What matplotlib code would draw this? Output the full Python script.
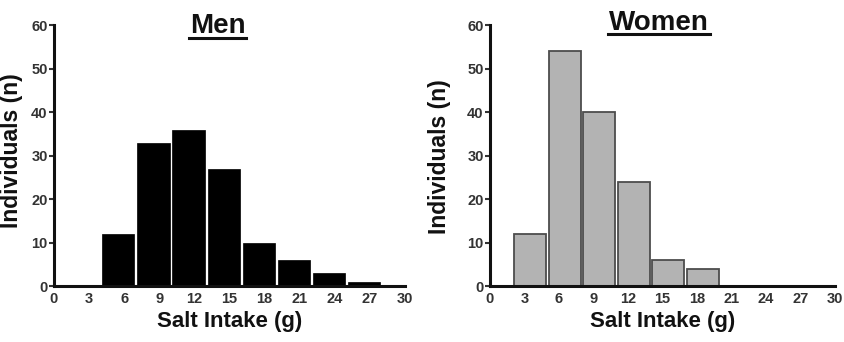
import matplotlib
matplotlib.use("Agg")
import matplotlib.pyplot as plt
from matplotlib.lines import Line2D

plt.rcParams['font.family'] = ['Liberation Sans', 'DejaVu Sans']
plt.rcParams['font.weight'] = 'bold'

# Data
men_centers = [5.5, 8.5, 11.5, 14.5, 17.5, 20.5, 23.5, 26.5]
men_counts = [12, 33, 36, 27, 10, 6, 3, 1]
women_centers = [3.5, 6.5, 9.5, 12.5, 15.5, 18.5]
women_counts = [12, 54, 40, 24, 6, 4]
xticks = [0, 3, 6, 9, 12, 15, 18, 21, 24, 27, 30]
yticks = [0, 10, 20, 30, 40, 50, 60]

W, H = 845, 342
fig = plt.figure(figsize=(W / 100, H / 100), dpi=100)


def fx(px):
    return px / W


def fy(py):
    return 1 - py / H


def make_axes(left_px, right_px):
    top_px, bottom_px = 25.3, 286
    ax = fig.add_axes([fx(left_px), fy(bottom_px),
                       fx(right_px - left_px), (bottom_px - top_px) / H])
    ax.set_xlim(0, 30)
    ax.set_ylim(0, 60)
    ax.set_xticks(xticks)
    ax.set_yticks(yticks)
    for s in ['top', 'right']:
        ax.spines[s].set_visible(False)
    for s in ['left', 'bottom']:
        ax.spines[s].set_linewidth(2.2)
        ax.spines[s].set_color('#111111')
    ax.spines['left'].set_bounds(0, 60)
    ax.tick_params(axis='y', length=3.5, width=1.5, pad=1, labelsize=10.5,
                   colors='#333333')
    ax.tick_params(axis='x', length=0, width=1.5, pad=4, labelsize=10.5,
                   colors='#333333')
    for lbl in ax.get_xticklabels() + ax.get_yticklabels():
        lbl.set_fontweight('bold')
    ax.set_xlabel('Salt Intake (g)', fontsize=16, fontweight='bold',
                  color='#111111', labelpad=4)
    ax.patch.set_alpha(0)
    return ax


ax1 = make_axes(54, 405)
ax1.bar(men_centers, men_counts, width=2.75, color='black',
        edgecolor='black', linewidth=0.5, zorder=1)
ax1.set_ylabel('Individuals (n)', fontsize=16.5, fontweight='bold',
               color='#111111')
ax1.yaxis.set_label_coords((23 - 54) / (405 - 54), 0.52)

ax2 = make_axes(490, 835)
ax2.bar(women_centers, women_counts, width=2.75, color='#b3b3b3',
        edgecolor='#4d4d4d', linewidth=1.3, zorder=1)
ax2.set_ylabel('Individuals (n)', fontsize=16.5, fontweight='bold',
               color='#111111')
ax2.yaxis.set_label_coords((451 - 490) / (835 - 490), 0.495)

# Titles with underline
titles = [("Men", 217.5, 33, 38), ("Women", 659, 30, 33.5)]
for txt, cx, base_py, ul_py in titles:
    t = fig.text(fx(cx), fy(base_py), txt, ha='center', va='baseline',
                 fontsize=20, fontweight='bold', color='#111111')
    fig.canvas.draw()
    bb = t.get_window_extent()
    x0, x1 = bb.x0 - 1, bb.x1 + 1
    fig.add_artist(Line2D([x0 / W, x1 / W], [fy(ul_py), fy(ul_py)],
                          transform=fig.transFigure, color='#111111',
                          linewidth=2.2))

fig.savefig('out.png', dpi=100)
